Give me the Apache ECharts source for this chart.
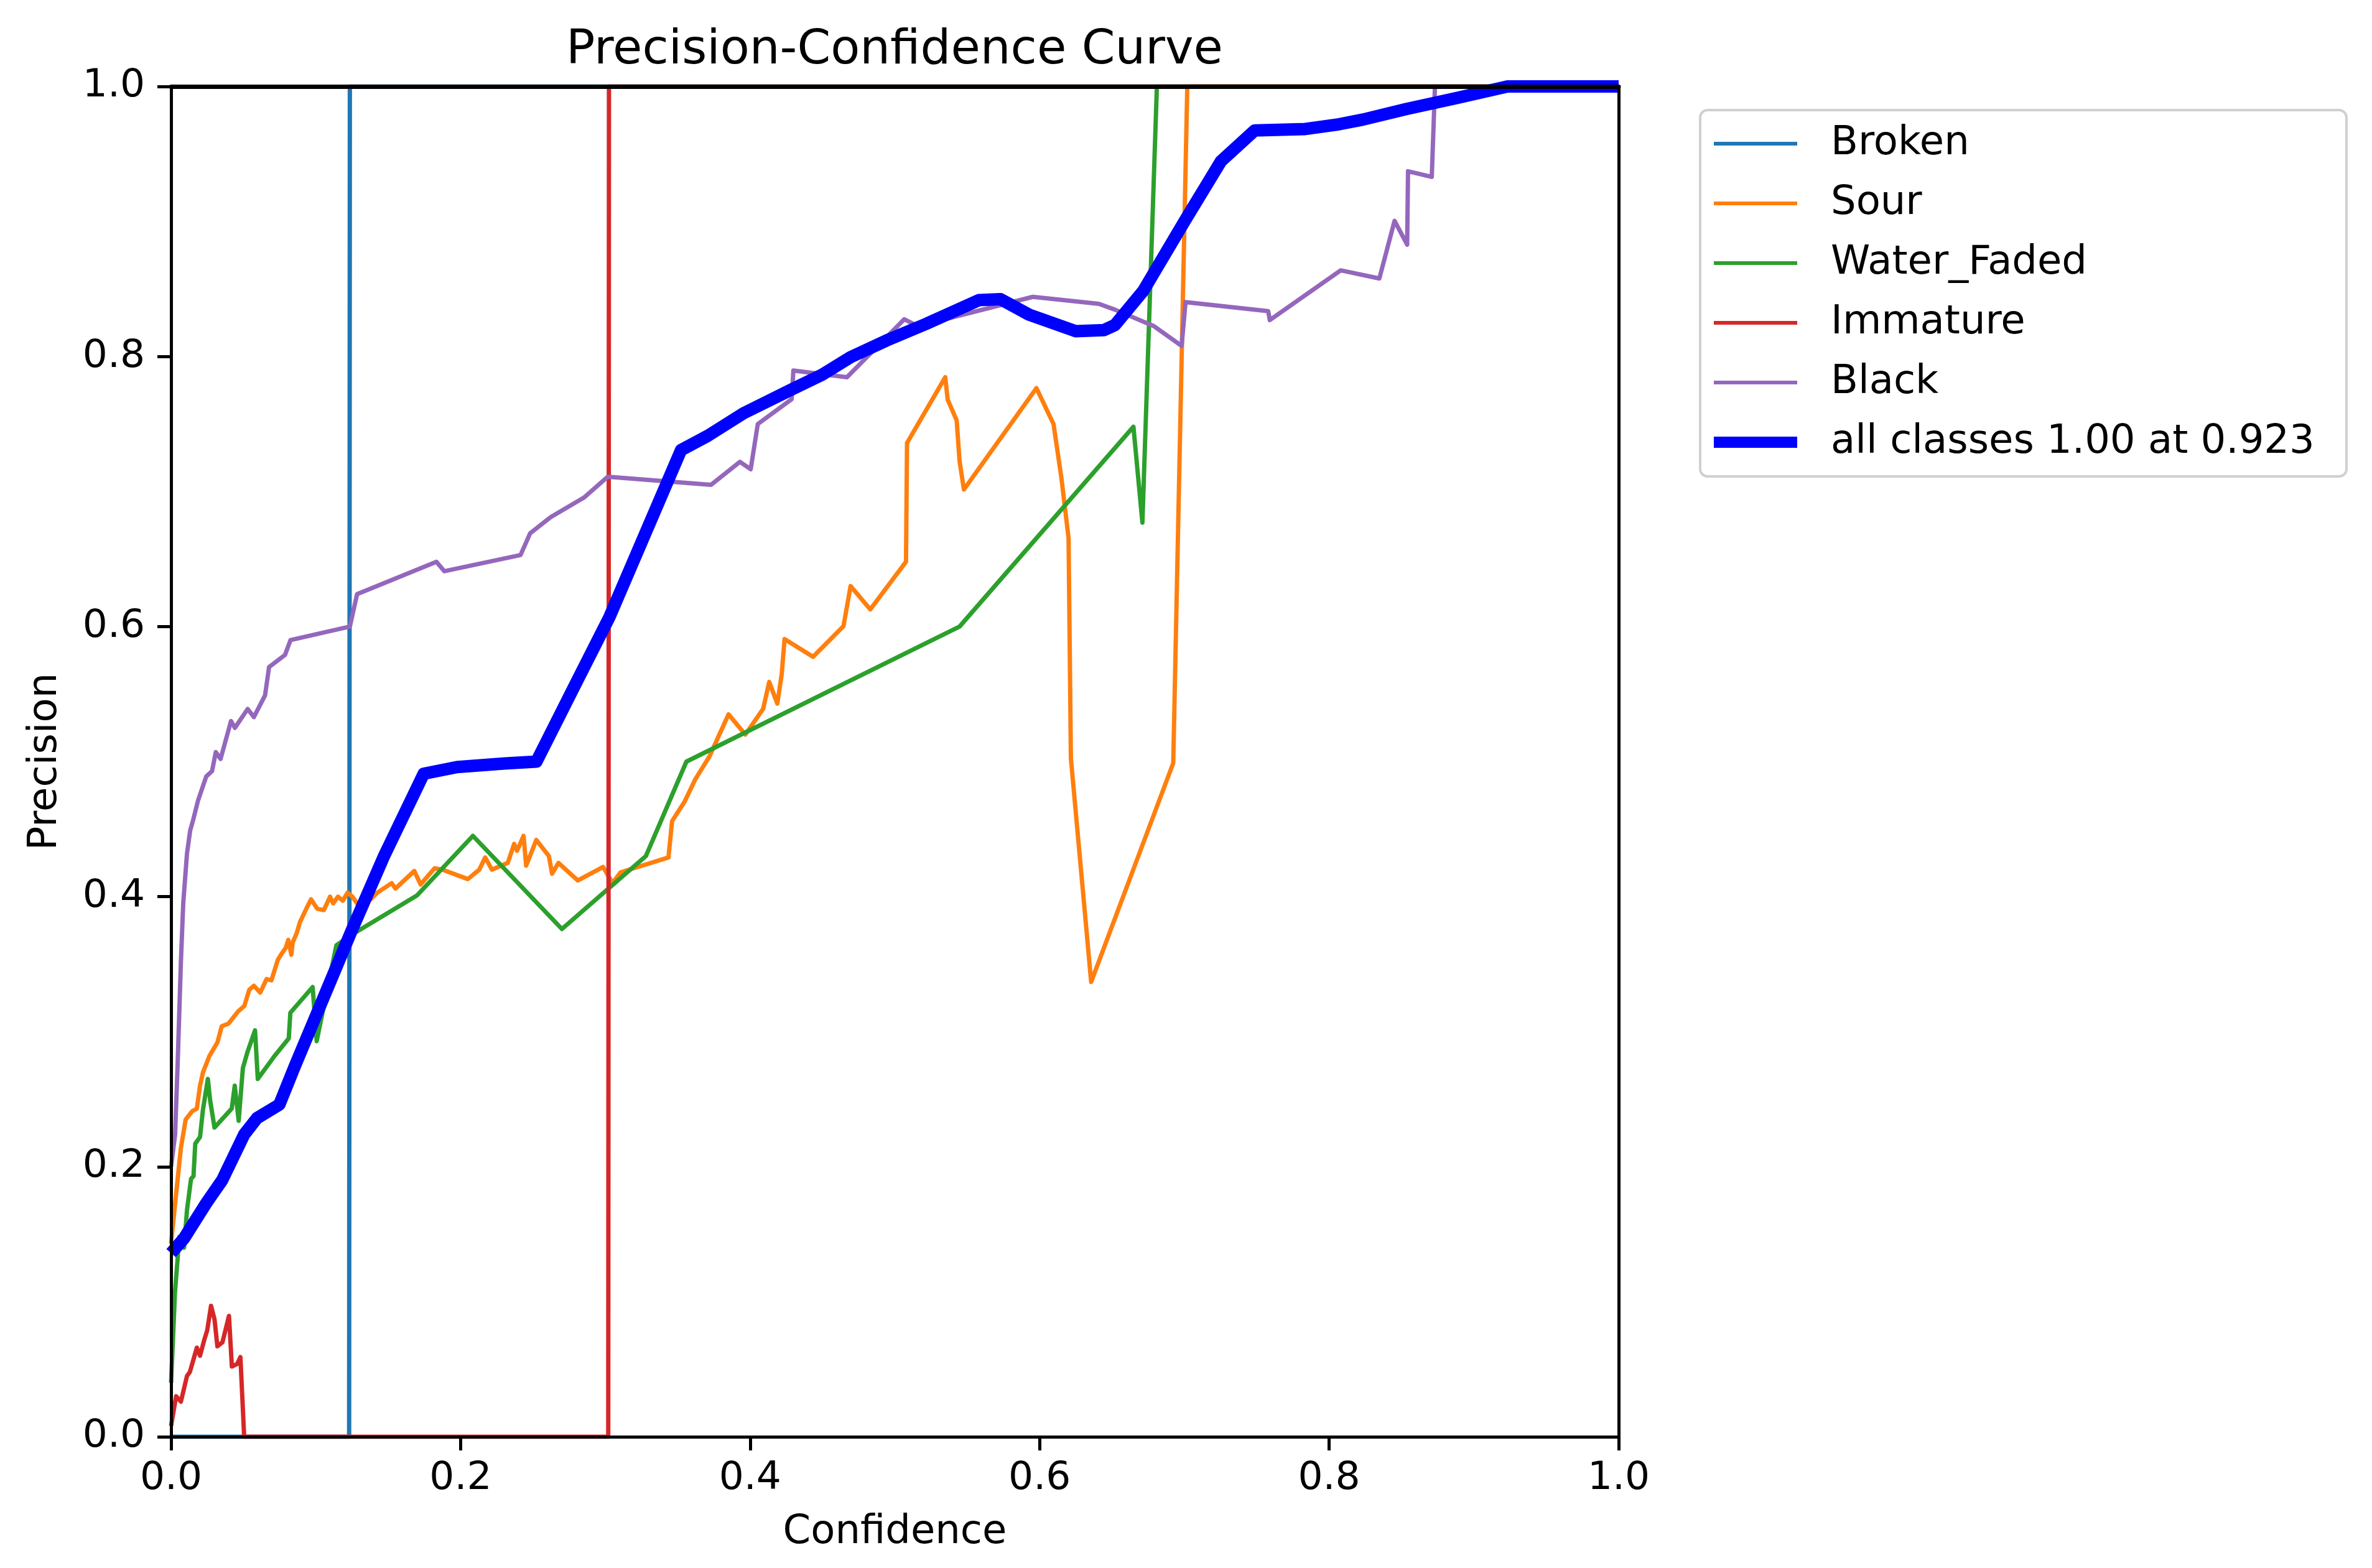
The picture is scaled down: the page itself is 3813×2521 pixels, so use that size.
<!DOCTYPE html>
<html>
<head>
<meta charset="utf-8">
<script src="https://cdn.jsdelivr.net/npm/echarts@6/dist/echarts.min.js"></script>
<style>
html,body{margin:0;padding:0;background:#fff;}
#c{width:3813px;height:2521px;}
</style>
</head>
<body>
<div id="c"></div>
<script>
// ---- data (confidence, precision) ----
var seriesNames = ['Broken', 'Sour', 'Water_Faded', 'Immature', 'Black', 'all classes 1.00 at 0.923'];
var xTicks = [0.0, 0.2, 0.4, 0.6, 0.8, 1.0];
var yTicks = [0.0, 0.2, 0.4, 0.6, 0.8, 1.0];

var broken = [[0,0],[0.123,0],[0.1235,1],[1,1]];

var sour = [[0,0.143],[0.0035,0.180],[0.0068,0.214],[0.0101,0.235],[0.0145,0.241],[0.0178,0.243],[0.020,0.260],[0.0221,0.270],[0.0265,0.282],[0.032,0.292],[0.035,0.304],[0.0397,0.306],[0.0463,0.315],[0.0506,0.319],[0.054,0.331],[0.0572,0.334],[0.0616,0.329],[0.066,0.339],[0.0693,0.338],[0.0737,0.353],[0.0759,0.357],[0.0792,0.362],[0.081,0.368],[0.0831,0.357],[0.084,0.366],[0.0868,0.373],[0.089,0.381],[0.0934,0.391],[0.0967,0.398],[0.101,0.391],[0.1055,0.390],[0.1077,0.395],[0.1098,0.400],[0.112,0.395],[0.1153,0.400],[0.1186,0.397],[0.122,0.403],[0.1252,0.400],[0.1285,0.395],[0.138,0.398],[0.1425,0.403],[0.1524,0.410],[0.155,0.406],[0.168,0.419],[0.1724,0.409],[0.182,0.421],[0.1875,0.420],[0.205,0.413],[0.2129,0.420],[0.217,0.429],[0.2216,0.420],[0.2326,0.425],[0.237,0.439],[0.239,0.434],[0.2435,0.445],[0.2453,0.423],[0.2523,0.442],[0.261,0.430],[0.2632,0.417],[0.2676,0.425],[0.281,0.412],[0.2984,0.422],[0.305,0.410],[0.3105,0.418],[0.3436,0.429],[0.3461,0.456],[0.3548,0.4705],[0.3622,0.487],[0.372,0.504],[0.3851,0.535],[0.3967,0.520],[0.409,0.539],[0.4132,0.559],[0.4188,0.543],[0.4218,0.5645],[0.4238,0.5907],[0.4435,0.5776],[0.4645,0.6003],[0.4694,0.630],[0.483,0.6127],[0.5077,0.648],[0.5084,0.736],[0.5348,0.7847],[0.5365,0.768],[0.5427,0.7527],[0.5447,0.7225],[0.5477,0.7015],[0.5978,0.7766],[0.6096,0.750],[0.615,0.7105],[0.620,0.6655],[0.6216,0.5024],[0.6356,0.3368],[0.6923,0.4989],[0.702,1.0],[1,1]];

var waterFaded = [[0,0.04],[0.0027,0.107],[0.0057,0.148],[0.009,0.140],[0.011,0.168],[0.0138,0.191],[0.0155,0.193],[0.0167,0.217],[0.020,0.222],[0.022,0.242],[0.0254,0.265],[0.027,0.249],[0.030,0.229],[0.0419,0.243],[0.044,0.260],[0.0467,0.234],[0.0496,0.273],[0.0528,0.285],[0.058,0.301],[0.0599,0.265],[0.0715,0.282],[0.0813,0.295],[0.0824,0.314],[0.0978,0.333],[0.1006,0.293],[0.1142,0.364],[0.125,0.372],[0.170,0.401],[0.2085,0.445],[0.270,0.376],[0.328,0.430],[0.356,0.500],[0.5447,0.600],[0.6648,0.748],[0.671,0.677],[0.681,1.0],[1,1]];

var immature = [[0,0.008],[0.0035,0.030],[0.0068,0.026],[0.011,0.045],[0.013,0.048],[0.0178,0.066],[0.020,0.060],[0.023,0.072],[0.025,0.079],[0.0276,0.097],[0.030,0.087],[0.032,0.067],[0.0355,0.070],[0.040,0.0895],[0.042,0.052],[0.0457,0.054],[0.0479,0.059],[0.0505,0],[0.302,0],[0.3025,1],[1,1]];

var black = [[0,0.20],[0.0028,0.224],[0.0046,0.278],[0.0068,0.352],[0.0084,0.395],[0.011,0.432],[0.0132,0.449],[0.0153,0.457],[0.0186,0.471],[0.0211,0.479],[0.0243,0.489],[0.0283,0.493],[0.0309,0.507],[0.0342,0.502],[0.0414,0.530],[0.0441,0.525],[0.0529,0.539],[0.0572,0.533],[0.0649,0.549],[0.0677,0.570],[0.0787,0.579],[0.0825,0.590],[0.1235,0.600],[0.1285,0.624],[0.1833,0.648],[0.1888,0.641],[0.2414,0.653],[0.248,0.669],[0.2622,0.681],[0.2852,0.6955],[0.3017,0.711],[0.373,0.705],[0.393,0.722],[0.4004,0.7165],[0.4053,0.750],[0.4287,0.7684],[0.4299,0.7896],[0.4669,0.7847],[0.5065,0.8276],[0.516,0.8225],[0.5953,0.8442],[0.6409,0.839],[0.652,0.8347],[0.6791,0.8224],[0.6981,0.8079],[0.7008,0.8403],[0.7579,0.8336],[0.759,0.827],[0.808,0.8638],[0.8347,0.8578],[0.8452,0.9005],[0.8539,0.8828],[0.8545,0.9372],[0.8709,0.933],[0.8731,1.0],[1,1]];

var allClasses = [[0,0.136],[0.009,0.147],[0.0243,0.173],[0.0353,0.190],[0.0506,0.224],[0.0594,0.236],[0.0748,0.246],[0.0857,0.275],[0.1033,0.320],[0.1252,0.376],[0.1471,0.430],[0.1745,0.491],[0.1976,0.496],[0.2304,0.4986],[0.2524,0.500],[0.2787,0.556],[0.3028,0.607],[0.3523,0.7307],[0.3708,0.7413],[0.3955,0.758],[0.4275,0.775],[0.4497,0.7865],[0.4694,0.7995],[0.4941,0.8118],[0.5212,0.824],[0.5582,0.8418],[0.573,0.8425],[0.5927,0.831],[0.6248,0.8188],[0.6445,0.8196],[0.652,0.8233],[0.6717,0.8488],[0.700,0.900],[0.7252,0.9445],[0.7485,0.9674],[0.7835,0.9685],[0.8068,0.972],[0.8231,0.9754],[0.8534,0.9833],[0.8883,0.9915],[0.9232,1.0],[1,1]];

var seriesData = [broken, sour, waterFaded, immature, black, allClasses];
var colors = ['#1f77b4', '#ff7f0e', '#2ca02c', '#d62728', '#9467bd', '#0000ff'];
var widths = [7, 7, 7, 7, 7, 20];

var FONT = 'DejaVu Sans';
var chart = echarts.init(document.getElementById('c'), null, {renderer: 'canvas'});

function fmt(v) { return Number(v).toFixed(1); }

var series = seriesNames.map(function (n, i) {
  return {
    name: n,
    type: 'line',
    data: seriesData[i],
    symbol: 'none',
    showSymbol: false,
    clip: true,
    animation: false,
    lineStyle: {color: colors[i], width: widths[i], join: 'round', cap: 'butt'},
    itemStyle: {color: colors[i]},
    emphasis: {disabled: true}
  };
});

var axisLineStyle = {color: '#000', width: 5};
var legendText = {fontFamily: FONT, fontSize: 64, color: '#000', lineHeight: 64, padding: [0, 0, 0, 49]};

var option = {
  backgroundColor: '#fff',
  animation: false,
  title: {
    text: 'Precision-Confidence Curve',
    left: 1438,
    textAlign: 'center',
    top: 43,
    padding: 0,
    textStyle: {fontFamily: FONT, fontSize: 77, fontWeight: 'normal', color: '#000'}
  },
  grid: {left: 275, top: 139, right: 1211, bottom: 211, containLabel: false},
  graphic: [{
    type: 'rect',
    left: 2731, top: 175, z: 0,
    shape: {width: 1039, height: 589, r: 12},
    style: {fill: 'rgba(255,255,255,0.8)', stroke: '#d0d0d0', lineWidth: 4}
  }],
  legend: [{
    orient: 'vertical',
    left: 2755,
    top: 199,
    padding: 0,
    itemWidth: 134,
    itemHeight: 6,
    itemGap: 32,
    icon: 'rect',
    textStyle: legendText,
    data: seriesNames.slice(0, 5)
  }, {
    orient: 'vertical',
    left: 2755,
    top: 679,
    padding: 0,
    itemWidth: 134,
    itemHeight: 18,
    itemGap: 32,
    icon: 'rect',
    textStyle: legendText,
    data: seriesNames.slice(5)
  }],
  xAxis: [{
    type: 'value', min: 0, max: 1, interval: 0.2, position: 'bottom', z: 10,
    name: 'Confidence', nameLocation: 'middle', nameGap: 122,
    nameTextStyle: {fontFamily: FONT, fontSize: 64, color: '#000'},
    axisLine: {show: true, onZero: false, lineStyle: axisLineStyle},
    axisTick: {show: true, inside: false, length: 22, lineStyle: {color: '#000', width: 5}},
    axisLabel: {show: true, margin: 36, fontFamily: FONT, fontSize: 63, color: '#000', formatter: fmt},
    splitLine: {show: false}
  }, {
    type: 'value', min: 0, max: 1, position: 'top', z: 10,
    axisLine: {show: true, onZero: false, lineStyle: {color: '#000', width: 7}},
    axisTick: {show: false}, axisLabel: {show: false}, splitLine: {show: false}
  }],
  yAxis: [{
    type: 'value', min: 0, max: 1, interval: 0.2, position: 'left', z: 10,
    name: 'Precision', nameLocation: 'middle', nameGap: 170, nameRotate: 90,
    nameTextStyle: {fontFamily: FONT, fontSize: 64, color: '#000'},
    axisLine: {show: true, onZero: false, lineStyle: axisLineStyle},
    axisTick: {show: true, inside: false, length: 22, lineStyle: {color: '#000', width: 5}},
    axisLabel: {show: true, margin: 42, fontFamily: FONT, fontSize: 63, color: '#000', formatter: fmt},
    splitLine: {show: false}
  }, {
    type: 'value', min: 0, max: 1, position: 'right', z: 10,
    axisLine: {show: true, onZero: false, lineStyle: axisLineStyle},
    axisTick: {show: false}, axisLabel: {show: false}, splitLine: {show: false}
  }],
  series: series
};

chart.setOption(option);
</script>
</body>
</html>
